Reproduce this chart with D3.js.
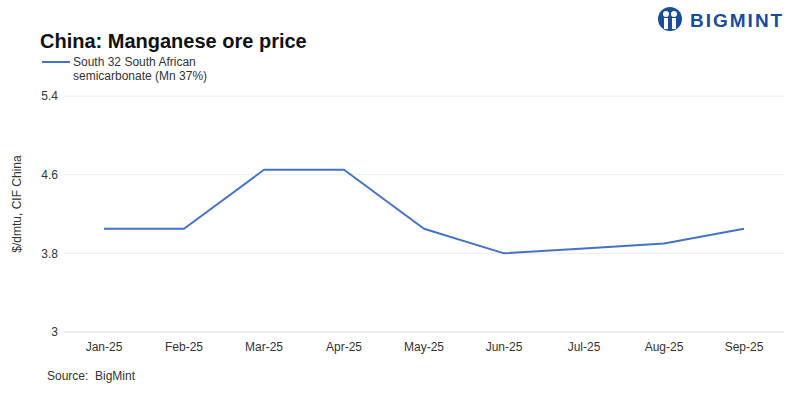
<!DOCTYPE html>
<html lang="en">
  <head>
    <meta charset="utf-8">
    <title>China: Manganese ore price</title>
    <script src="https://d3js.org/d3.v7.min.js"></script>
    <style>
      body {
        margin: 0;
        background: #fff;
        font-family: "Liberation Sans", Arial, sans-serif;
        color: #222;
      }
      .axis text { font-size: 12px; fill: #333; font-family: "Liberation Sans", Arial, sans-serif; }
    </style>
  </head>
  <body>
    <svg id="chart" width="800" height="399"></svg>
    <script>

    // data
    let months = ["Jan-25", "Feb-25", "Mar-25", "Apr-25", "May-25", "Jun-25", "Jul-25", "Aug-25", "Sep-25"]
    let prices = [4.05, 4.05, 4.65, 4.65, 4.05, 3.8, 3.85, 3.9, 4.05]
    let yTicks = [3, 3.8, 4.6, 5.4]
    let seriesName = ["South 32 South African", "semicarbonate (Mn 37%)"]

    let svg = d3.select("#chart")
    let lineColor = "#4472c4"

    let x = d3.scaleBand()
      .domain(months)
      .range([64, 784])

    let y = d3.scaleLinear()
      .domain([3, 5.4])
      .range([332, 96])

    // gridlines
    svg.append("g")
      .selectAll("line")
      .data(yTicks)
      .join("line")
        .attr("x1", 64)
        .attr("x2", 784)
        .attr("y1", d => y(d))
        .attr("y2", d => y(d))
        .style("stroke", d => d == 3 ? "#d9d9d9" : "#ececec")

    // y axis
    let yAxis = svg.append("g")
      .attr("class", "axis")
      .attr("transform", "translate(58,0)")
      .call(d3.axisLeft(y).tickValues(yTicks).tickFormat(d3.format("")).tickSize(0).tickPadding(0))
    yAxis.select(".domain").remove()

    // x axis
    let xAxis = svg.append("g")
      .attr("class", "axis")
      .attr("transform", "translate(0,342)")
      .call(d3.axisBottom(x).tickSize(0).tickPadding(0))
    xAxis.select(".domain").remove()
    xAxis.selectAll("text").attr("dy", "0.71em")

    // line
    let line = d3.line()
      .x((d, i) => x(months[i]) + x.bandwidth() / 2)
      .y(d => y(d))

    svg.append("path")
      .datum(prices)
      .attr("d", line)
      .attr("fill", "none")
      .attr("stroke", lineColor)
      .attr("stroke-width", 2)
      .attr("stroke-linejoin", "round")

    // title
    svg.append("text")
      .attr("x", 40)
      .attr("y", 48)
      .style("font-size", "20px")
      .style("font-weight", "bold")
      .style("fill", "#111")
      .text("China: Manganese ore price")

    // legend
    svg.append("line")
      .attr("x1", 42).attr("x2", 70)
      .attr("y1", 62).attr("y2", 62)
      .attr("stroke", lineColor)
      .attr("stroke-width", 2)

    svg.append("g")
      .selectAll("text")
      .data(seriesName)
      .join("text")
        .attr("x", 73)
        .attr("y", (d, i) => 66 + i * 14)
        .style("font-size", "12px")
        .style("fill", "#333")
        .text(d => d)

    // y axis title
    svg.append("text")
      .attr("transform", "translate(21,204) rotate(-90)")
      .attr("text-anchor", "middle")
      .style("font-size", "12px")
      .style("fill", "#333")
      .text("$/dmtu, CIF China")

    // source
    svg.append("text")
      .attr("x", 47)
      .attr("y", 380)
      .style("font-size", "12px")
      .style("fill", "#333")
      .attr("xml:space", "preserve")
      .text("Source:  BigMint")

    // logo
    let logo = svg.append("g").attr("transform", "translate(670,19)")
    logo.append("circle").attr("r", 12).attr("fill", "#1a4c9c")
    logo.append("circle").attr("cx", -4).attr("cy", -5).attr("r", 3).attr("fill", "#fff")
    logo.append("circle").attr("cx", 4).attr("cy", -5).attr("r", 3).attr("fill", "#fff")
    logo.append("rect").attr("x", -6).attr("y", -1).attr("width", 4).attr("height", 11).attr("fill", "#fff")
    logo.append("rect").attr("x", 2).attr("y", -1).attr("width", 4).attr("height", 11).attr("fill", "#fff")
    logo.append("rect").attr("x", -1).attr("y", 2).attr("width", 2).attr("height", 10).attr("fill", "#1a4c9c")

    svg.append("text")
      .attr("x", 690)
      .attr("y", 27)
      .style("font-size", "19px")
      .style("font-weight", "bold")
      .style("letter-spacing", "2px")
      .style("fill", "#1a4c9c")
      .text("BIGMINT")

    </script>
  </body>
</html>
